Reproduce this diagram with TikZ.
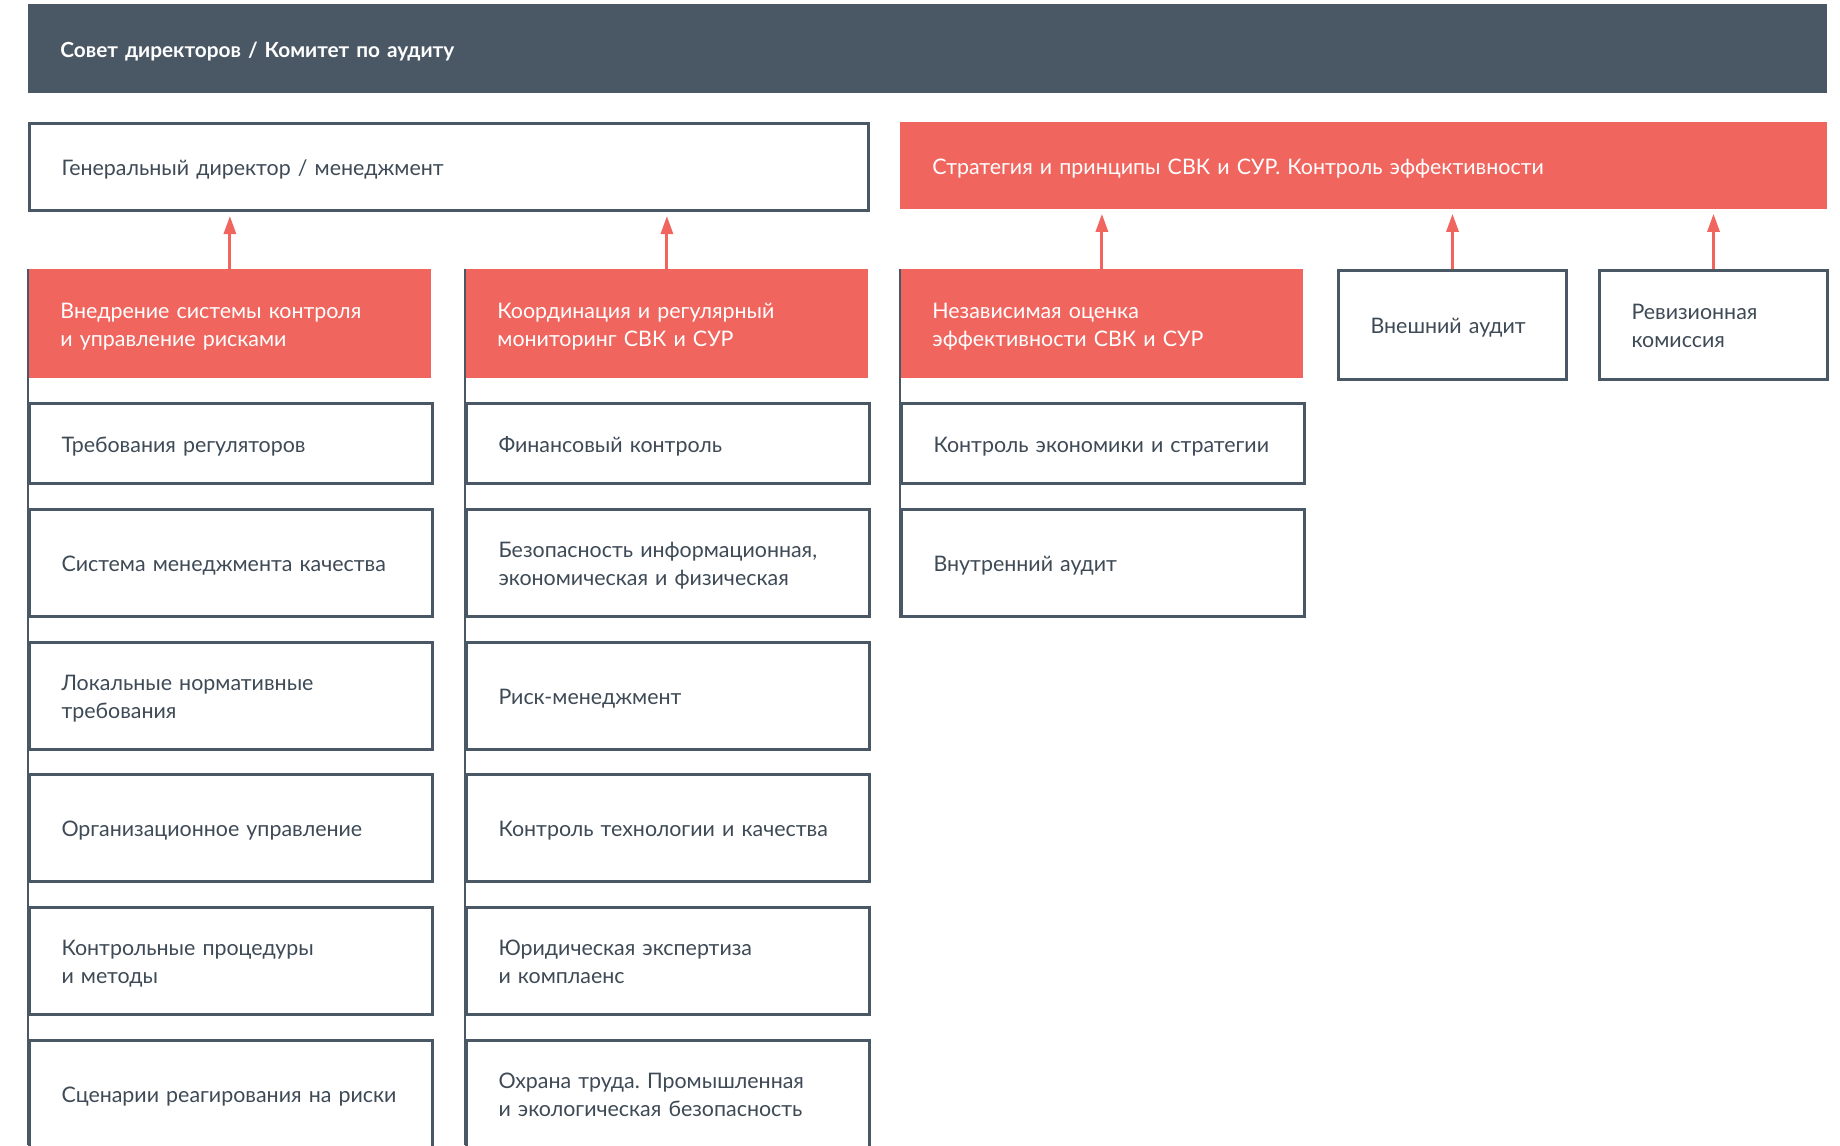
\documentclass[tikz,border=0pt]{standalone}
\usepackage{fontspec}
\setmainfont{Lato}[WordSpace=0.9]
\usetikzlibrary{arrows.meta}
\frenchspacing
\definecolor{slate}{HTML}{4A5866}
\definecolor{coral}{HTML}{F0665F}
\definecolor{ink}{HTML}{3E4A56}
\tikzset{
  base/.style={rectangle, inner xsep=16pt, inner ysep=0pt, align=left, anchor=north west,
    font=\fontsize{10.7}{14}\selectfont,
    execute at begin node={\rule{0pt}{11.7pt}},
    execute at end node={\rule[-3pt]{0pt}{3pt}}},
  boardbox/.style={base, fill=slate, text=white, font=\fontsize{10.4}{14}\selectfont\bfseries},
  redbox/.style={base, fill=coral, text=white},
  plainbox/.style={base, draw=slate, line width=1.5pt, fill=white, text=ink},
  wide/.style={minimum width=201.5pt, text width=169.5pt},
  narrow/.style={minimum width=114pt, text width=82pt},
  head/.style={minimum height=54.5pt},
  first/.style={minimum height=40pt},
  item/.style={minimum height=53.5pt},
  up/.style={-{Triangle[length=9pt,width=6pt]}, coral, line width=1.5pt, shorten >=2pt},
  spine/.style={slate, line width=1.4pt},
}
\begin{document}
\begin{tikzpicture}[x=0.5pt, y=-0.5pt]
    \useasboundingbox (0,0) rectangle (1840,1145);
    \clip (0,0) rectangle (1840,1145);
        %Topo
    \node[boardbox, minimum width=899.5pt, minimum height=44.5pt, text width=867.5pt] (board) at (28,4) {Совет директоров / Комитет по аудиту};
    \node[plainbox, minimum width=419.5pt, minimum height=43.5pt, text width=387.5pt] (ceo) at (28,122) {Генеральный директор / менеджмент};
    \node[redbox, minimum width=463.5pt, minimum height=43.5pt, text width=431.5pt] (strategy) at (900,122) {Стратегия и принципы СВК и СУР. Контроль эффективности};

        %Cabecalhos das colunas
    \node[redbox, wide, head] (c1h) at (28,269) {Внедрение системы контроля\\и управление рисками};
    \node[redbox, wide, head] (c2h) at (465,269) {Координация и регулярный\\мониторинг СВК и СУР};
    \node[redbox, wide, head] (c3h) at (900,269) {Независимая оценка\\эффективности СВК и СУР};
    \node[plainbox, narrow, head] (c4h) at (1337,269) {Внешний аудит};
    \node[plainbox, narrow, head] (c5h) at (1598,269) {Ревизионная\\комиссия};

        %Coluna 1
    \node[plainbox, wide, first] (c1s1) at (28,402) {Требования регуляторов};
    \node[plainbox, wide, item] (c1s2) at (28,508) {Система менеджмента качества};
    \node[plainbox, wide, item] (c1s3) at (28,641) {Локальные нормативные\\требования};
    \node[plainbox, wide, item] (c1s4) at (28,773) {Организационное управление};
    \node[plainbox, wide, item] (c1s5) at (28,906) {Контрольные процедуры\\и методы};
    \node[plainbox, wide, item] (c1s6) at (28,1039) {Сценарии реагирования на риски};

        %Coluna 2
    \node[plainbox, wide, first] (c2s1) at (465,402) {Финансовый контроль};
    \node[plainbox, wide, item] (c2s2) at (465,508) {Безопасность информационная,\\экономическая и физическая};
    \node[plainbox, wide, item] (c2s3) at (465,641) {Риск-менеджмент};
    \node[plainbox, wide, item] (c2s4) at (465,773) {Контроль технологии и качества};
    \node[plainbox, wide, item] (c2s5) at (465,906) {Юридическая экспертиза\\и комплаенс};
    \node[plainbox, wide, item] (c2s6) at (465,1039) {Охрана труда. Промышленная\\и экологическая безопасность};

        %Coluna 3
    \node[plainbox, wide, first] (c3s1) at (900,402) {Контроль экономики и стратегии};
    \node[plainbox, wide, item] (c3s2) at (900,508) {Внутренний аудит};

        %Linhas laterais
    \coordinate (floor) at (0,1145);
    \draw[spine] (c1h.north west) -- (c1h.north west |- floor);
    \draw[spine] (c2h.north west) -- (c2h.north west |- floor);
    \draw[spine] (c3h.north west) -- (c3s2.south west);

        %Setas
    \draw[up] (c1h.north) -- (c1h.north |- ceo.south);
    \draw[up] (c2h.north) -- (c2h.north |- ceo.south);
    \draw[up] (c3h.north) -- (c3h.north |- strategy.south);
    \draw[up] (c4h.north) -- (c4h.north |- strategy.south);
    \draw[up] (c5h.north) -- (c5h.north |- strategy.south);
\end{tikzpicture}
\end{document}
